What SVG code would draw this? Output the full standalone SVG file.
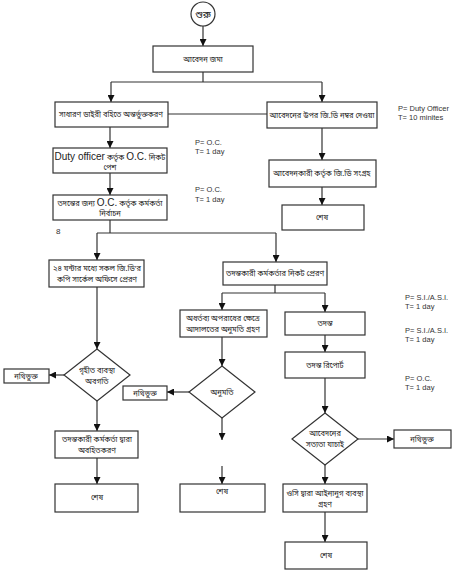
<svg xmlns="http://www.w3.org/2000/svg" width="469" height="584" viewBox="0 0 469 584">
<style>
.box{fill:#fff;stroke:#333;stroke-width:1.2}
.ln{fill:none;stroke:#333;stroke-width:1.2}
.t{font-family:"Noto Sans Bengali","Noto Sans","Liberation Sans",sans-serif;font-size:7.5px;fill:#222;text-anchor:middle}
.e{font-family:"Liberation Sans",Arial,sans-serif;font-size:7.5px;fill:#333}
.big{font-family:"Liberation Sans",Arial,sans-serif;font-size:10px}
</style>
<defs>
<marker id="ar" viewBox="0 0 10 10" refX="10" refY="5" markerWidth="7" markerHeight="7" orient="auto" markerUnits="userSpaceOnUse">
<path d="M0,0 L10,5 L0,10 z" fill="#111"/>
</marker>
</defs>
<rect width="469" height="584" fill="#fff"/>
<g id="connectors" class="ln">
<path d="M203,26 V46" marker-end="url(#ar)"/>
<path d="M203,72 V82"/>
<path d="M111,82 H322"/>
<path d="M111,82 V102" marker-end="url(#ar)"/>
<path d="M322,82 V102" marker-end="url(#ar)"/>
<path d="M168,114 H267"/>
<path d="M322,128 V160" marker-end="url(#ar)"/>
<path d="M322,187 V205" marker-end="url(#ar)"/>
<path d="M110,127 V148" marker-end="url(#ar)"/>
<path d="M110,173 V195" marker-end="url(#ar)"/>
<path d="M110,220 V233"/>
<path d="M97,233 H276"/>
<path d="M97,233 V260" marker-end="url(#ar)"/>
<path d="M276,233 V262" marker-end="url(#ar)"/>
<path d="M275,285 V293"/>
<path d="M222,293 H325"/>
<path d="M222,293 V310" marker-end="url(#ar)"/>
<path d="M325,293 V312" marker-end="url(#ar)"/>
<path d="M325,335 V352" marker-end="url(#ar)"/>
<path d="M325,378 V413" marker-end="url(#ar)"/>
<path d="M358,439 H394" marker-end="url(#ar)"/>
<path d="M325,465 V484" marker-end="url(#ar)"/>
<path d="M325,512 V542" marker-end="url(#ar)"/>
<path d="M97,287 V349" marker-end="url(#ar)"/>
<path d="M64,375 H49" marker-end="url(#ar)"/>
<path d="M97,401 V431" marker-end="url(#ar)"/>
<path d="M97,458 V484" marker-end="url(#ar)"/>
<path d="M222,337 V366" marker-end="url(#ar)"/>
<path d="M189,392 H167" marker-end="url(#ar)"/>
<path d="M222,418 V440" marker-end="url(#ar)"/>
<path d="M222,466 V484" marker-end="url(#ar)"/>
</g>
<g id="start"><circle cx="203" cy="14" r="12" class="box"/><text x="203" y="18" class="t" style="font-size:10px">শুরু</text></g>
<g id="n1"><rect x="153" y="46" width="100" height="26" class="box"/><text x="203" y="62" class="t">আবেদন জমা</text></g>
<g id="n2"><rect x="55" y="102" width="113" height="25" class="box"/><text x="111" y="117" class="t">সাধারণ ডাইরী বহিতে অন্তর্ভুক্তকরণ</text></g>
<g id="n3"><rect x="267" y="102" width="110" height="26" class="box"/><text x="322" y="118" class="t">আবেদনের উপর জি.ডি নম্বর দেওয়া</text></g>
<g id="n4"><rect x="269" y="160" width="107" height="27" class="box"/><text x="322" y="176" class="t">আবেদনকারী কর্তৃক জি.ডি সংগ্রহ</text></g>
<g id="n5"><rect x="282" y="205" width="82" height="25" class="box"/><text x="322" y="220" class="t">শেষ</text></g>
<g id="n6"><rect x="53" y="148" width="114" height="25" class="box"/><text x="110" y="160" class="t"><tspan class="big">Duty officer</tspan> কর্তৃক <tspan class="big">O.C.</tspan> নিকট</text><text x="110" y="170" class="t">পেশ</text></g>
<g id="n7"><rect x="53" y="195" width="114" height="25" class="box"/><text x="110" y="206" class="t">তদন্তের জন্য <tspan class="big">O.C.</tspan> কর্তৃক কর্মকর্তা</text><text x="110" y="216" class="t">নির্বাচন</text></g>
<g id="n8"><rect x="49" y="260" width="95" height="27" class="box"/><text x="97" y="271" class="t">২৪ ঘন্টার মধ্যে সকল জি.ডি'র</text><text x="97" y="282" class="t">কপি সার্কেল অফিসে প্রেরণ</text></g>
<g id="n9"><rect x="223" y="262" width="104" height="23" class="box"/><text x="275" y="276" class="t">তদন্তকারী কর্মকর্তার নিকট প্রেরণ</text></g>
<g id="n10"><rect x="180" y="310" width="87" height="27" class="box"/><text x="223" y="321" class="t">অধর্তব্য অপরাধের ক্ষেত্রে</text><text x="223" y="332" class="t">আদালতের অনুমতি গ্রহণ</text></g>
<g id="n11"><rect x="285" y="312" width="80" height="23" class="box"/><text x="325" y="326" class="t">তদন্ত</text></g>
<g id="n12"><rect x="285" y="352" width="80" height="26" class="box"/><text x="325" y="368" class="t">তদন্ত রিপোর্ট</text></g>
<g id="d3"><path d="M325,413 L358,439 L325,465 L292,439 Z" class="box"/><text x="325" y="436" class="t">আবেদনের</text><text x="325" y="447" class="t">সত্যতা যাচাই</text></g>
<g id="n13"><rect x="394" y="430" width="57" height="18" class="box"/><text x="422" y="442" class="t">নথিভুক্ত</text></g>
<g id="n14"><rect x="283" y="484" width="84" height="28" class="box"/><text x="325" y="496" class="t">ওসি দ্বারা আইনানুগ ব্যবস্থা</text><text x="325" y="507" class="t">গ্রহণ</text></g>
<g id="n15"><rect x="285" y="542" width="82" height="27" class="box"/><text x="326" y="558" class="t">শেষ</text></g>
<g id="d1"><path d="M97,349 L130,375 L97,401 L64,375 Z" class="box"/><text x="97" y="373" class="t">গৃহীত ব্যবস্থা</text><text x="97" y="384" class="t">অবগতি</text></g>
<g id="n16"><rect x="4" y="369" width="45" height="14" class="box"/><text x="26" y="379" class="t">নথিভুক্ত</text></g>
<g id="n17"><rect x="55" y="431" width="83" height="27" class="box"/><text x="97" y="442" class="t">তদন্তকারী কর্মকর্তা দ্বারা</text><text x="97" y="453" class="t">অবহিতকরণ</text></g>
<g id="n18"><rect x="55" y="484" width="83" height="28" class="box"/><text x="97" y="500" class="t">শেষ</text></g>
<g id="d2"><path d="M222,366 L255,392 L222,418 L189,392 Z" class="box"/><text x="222" y="395" class="t">অনুমতি</text></g>
<g id="n19"><rect x="123" y="386" width="44" height="14" class="box"/><text x="145" y="396" class="t">নথিভুক্ত</text></g>
<g id="n20"><rect x="180" y="484" width="85" height="28" class="box"/><text x="222" y="494" class="t">শেষ</text></g>
<g id="labels">
<text x="398" y="111" class="e">P= Duty Officer</text>
<text x="398" y="120" class="e">T= 10 minites</text>
<text x="195" y="145" class="e">P= O.C.</text>
<text x="195" y="154" class="e">T= 1 day</text>
<text x="195" y="192" class="e">P= O.C.</text>
<text x="195" y="202" class="e">T= 1 day</text>
<text x="56" y="234" class="e" style="font-size:8px">8</text>
<text x="405" y="300" class="e">P= S.I./A.S.I.</text>
<text x="405" y="309" class="e">T= 1 day</text>
<text x="405" y="333" class="e">P= S.I./A.S.I.</text>
<text x="405" y="342" class="e">T= 1 day</text>
<text x="405" y="381" class="e">P= O.C.</text>
<text x="405" y="390" class="e">T= 1 day</text>
</g>
</svg>
